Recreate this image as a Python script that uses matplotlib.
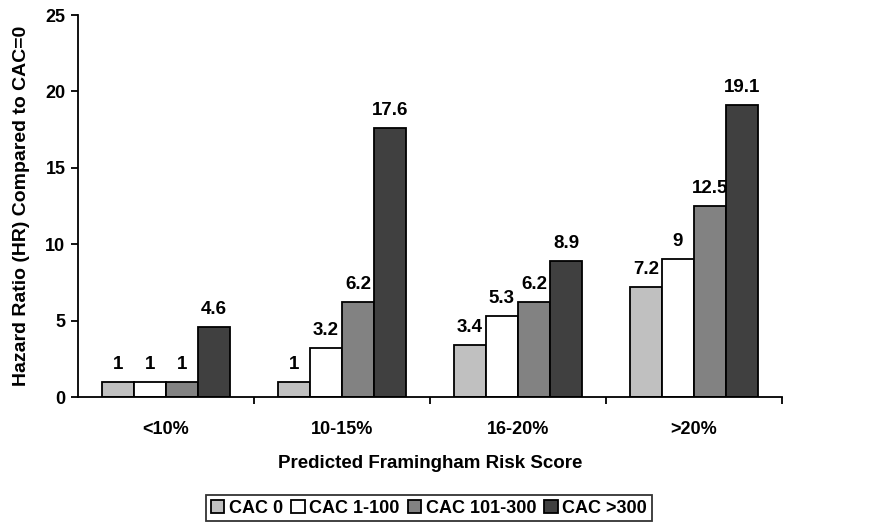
import numpy as np
import matplotlib.pyplot as plt

plt.rcParams['font.family'] = ['Liberation Sans', 'DejaVu Sans']
plt.rcParams['font.weight'] = 'bold'

# data
groups = ['<10%', '10-15%', '16-20%', '>20%']
series = ['CAC 0', 'CAC 1-100', 'CAC 101-300', 'CAC >300']
values = [
    [1, 1, 3.4, 7.2],
    [1, 3.2, 5.3, 9],
    [1, 6.2, 6.2, 12.5],
    [4.6, 17.6, 8.9, 19.1],
]
labels = [
    ['1', '1', '3.4', '7.2'],
    ['1', '3.2', '5.3', '9'],
    ['1', '6.2', '6.2', '12.5'],
    ['4.6', '17.6', '8.9', '19.1'],
]
colors = ['#c0c0c0', '#ffffff', '#828282', '#404040']

fig = plt.figure(figsize=(8.88, 5.25), dpi=100)
ax = fig.add_axes([0.0878, 0.2438, 0.7928, 0.7276])

x = np.arange(len(groups))
w = 0.182
for i in range(len(series)):
    pos = x + (i - 1.5) * w
    bars = ax.bar(pos, values[i], width=w, color=colors[i], edgecolor='black',
                  linewidth=1.3, label=series[i])
    for b, lab in zip(bars, labels[i]):
        ax.text(b.get_x() + b.get_width() / 2, b.get_height() + 0.6, lab,
                ha='center', va='bottom', fontsize=13.5, fontweight='bold')

ax.set_xlim(-0.5, len(groups) - 0.5)
ax.set_ylim(0, 25)
ax.set_yticks([0, 5, 10, 15, 20, 25])
ax.set_xticks(x)
ax.set_xticklabels(groups, fontsize=13, fontweight='bold')
ax.set_xticks(np.arange(0.5, len(groups), 1), minor=True)
ax.tick_params(axis='x', which='major', length=0, pad=17)
ax.tick_params(axis='x', which='minor', length=5, width=1.3)
ax.tick_params(axis='y', labelsize=13, length=5, width=1.3, direction='out', pad=4)
for t in ax.get_yticklabels():
    t.set_fontweight('bold')

ax.spines['top'].set_visible(False)
ax.spines['right'].set_visible(False)
ax.spines['left'].set_linewidth(1.3)
ax.spines['bottom'].set_linewidth(1.3)

ax.set_ylabel('Hazard Ratio (HR) Compared to CAC=0', fontsize=14, fontweight='bold')
ax.yaxis.set_label_coords(-0.068, 0.5)
ax.set_xlabel('Predicted Framingham Risk Score', fontsize=13.5, fontweight='bold')
ax.xaxis.set_label_coords(0.5, -0.152)

leg = ax.legend(loc='center', bbox_to_anchor=(0.483, 0.032), bbox_transform=fig.transFigure,
                ncol=4, fontsize=13, frameon=True, fancybox=False, edgecolor='black',
                handlelength=0.75, handleheight=0.75, handletextpad=0.25,
                columnspacing=0.45, borderpad=0.25, borderaxespad=0)
leg.get_frame().set_linewidth(1.3)
for t in leg.get_texts():
    t.set_fontweight('bold')

fig.savefig('out.png', dpi=100)
